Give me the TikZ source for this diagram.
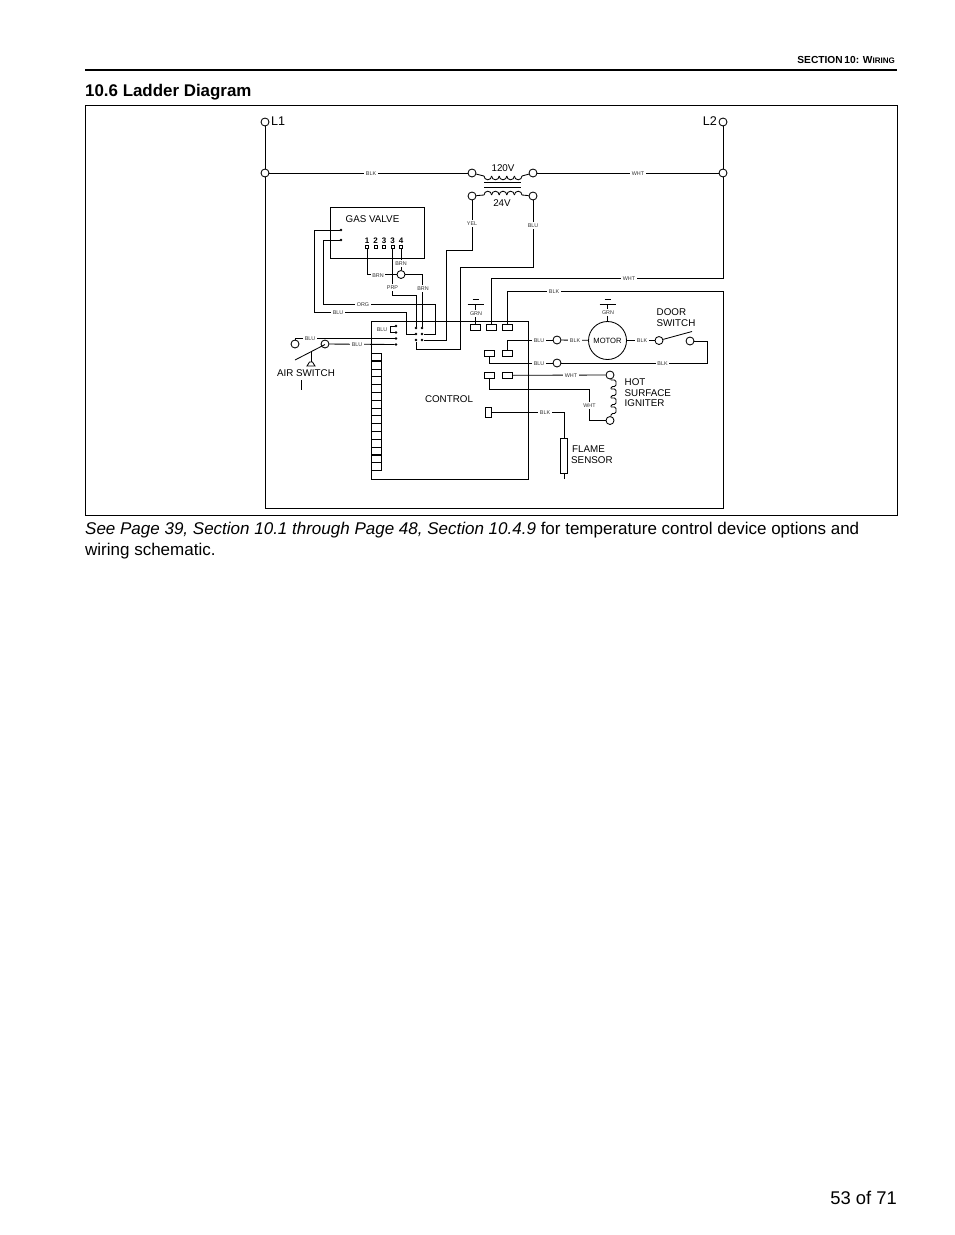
\documentclass[tikz,border=0pt]{standalone}
\usepackage{fontspec}
\setmainfont{Liberation Sans}
\usepackage{tikz}
\usetikzlibrary{positioning,shapes,calc}
\tikzset{
    wire/.style={draw=black,line width=0.85pt},
    term/.style={
                circle,
                draw=black,
                line width=0.85pt,
                fill=white,
                inner sep=0pt,
                minimum size=8pt
            },
    tab/.style={
                rectangle,
                draw=black,
                line width=0.85pt,
                fill=white,
                inner sep=0pt,
                minimum width=10pt,
                minimum height=6pt
            },
    pin/.style={
                circle,
                fill=black,
                inner sep=0pt,
                minimum size=2.6pt
            },
    vpin/.style={
                rectangle,
                draw=black,
                line width=0.6pt,
                inner sep=0pt,
                minimum size=2.6pt
            },
    wirelabel/.style={
                fill=white,
                inner sep=1.6pt,
                yshift=-0.4pt,
                text=black!80,
                font=\fontsize{5.4}{6}\selectfont
            },
    partlabel/.style={
                inner sep=0pt,
                yshift=-0.8pt,
                align=left,
                font=\fontsize{9.8}{10.8}\selectfont
            },
    striprow/.style={
                rectangle,
                draw=black,
                line width=0.8pt,
                inner sep=0pt,
                minimum width=10.5pt,
                minimum height=7.8pt
            },
}
\begin{document}
\begin{tikzpicture}[x=1pt,y=-1pt]
  \useasboundingbox (0,0) rectangle (954,1235);
  % Page furniture
  \node[anchor=east,inner sep=0pt,font=\bfseries\fontsize{10.2}{11}\selectfont] (sectionHead) at (895,60) {SECTION\,10: W{\fontsize{8}{9}\selectfont IRING}};
  \coordinate (ruleL) at (85,70);
  \coordinate (ruleR) at (897,70);
  \draw[line width=1.7pt] (ruleL) -- (ruleR);
  \node[anchor=west,inner sep=0pt,font=\bfseries\fontsize{16.9}{18}\selectfont] (title) at (85,92.3) {10.6 Ladder Diagram};
  \node[draw=black,line width=0.85pt,rectangle,minimum width=812pt,minimum height=410pt,inner sep=0pt] (frame) at (491,310) {};
  \node[anchor=north west,inner sep=0pt,align=left,font=\fontsize{17}{20.5}\selectfont] (note) at (85,522) {\itshape See Page 39, Section 10.1 through Page 48, Section 10.4.9 \upshape for temperature control device options and\\wiring schematic.};
  \node[anchor=east,inner sep=0pt,font=\fontsize{18.4}{20}\selectfont] (pageNo) at (897,1197.5) {53 of 71};

  % Terminals and parts
  \node[term] (L1) at (265,122) {};
  \node[term] (L2) at (723,122) {};
  \node[term] (railL) at (265,173) {};
  \node[term] (railR) at (723,173) {};
  \node[term] (priA) at (472,173) {};
  \node[term] (priB) at (533,173) {};
  \node[term] (secA) at (472,196) {};
  \node[term] (secB) at (533,196) {};
  \node[draw=black,line width=0.85pt,rectangle,inner sep=0pt,minimum width=94pt,minimum height=51pt] (gasValve) at (377,232.5) {};
  \node[draw=black,line width=0.85pt,rectangle,inner sep=0pt,minimum width=157pt,minimum height=158pt] (control) at (449.5,400) {};
  \node[pin] (gvA) at (341,230) {};
  \node[pin] (gvB) at (341,240) {};
  \foreach \name/\gx/\digit in {vOne/367/1,vTwo/375.5/2,vThree/384/3,vFour/392.5/3,vFive/401/4}{
    \node[vpin] (\name) at (\gx,246.5) {};
    \node[inner sep=0pt,font=\bfseries\fontsize{8}{8}\selectfont] (\name txt) at (\gx,241) {\digit};
  }
  \node[term] (brnJoin) at (401,274.5) {};
  \foreach \name/\gx/\gy in {cA/416/328,cB/422/328,cC/416/334,cD/422/334,cE/416/340,cF/422/340,bluA/396/326,bluB/396/332.5,bluC/396/338.5,bluD/396/344.5}{
    \node[pin] (\name) at (\gx,\gy) {};
  }
  \node[term] (airA) at (295,344) {};
  \node[term] (airB) at (325,344) {};
  \foreach \i in {0,...,14}{
    \node[striprow] (strip\i) at (376.5,357.2+7.8*\i) {};
  }
  \foreach \i in {1,5,13,15}{
    \draw[line width=1.6pt] (371.5,353.3+7.8*\i) -- (382,353.3+7.8*\i);
  }
  \node[tab] (tabA) at (475.5,327.5) {};
  \node[tab] (tabB) at (491.5,327.5) {};
  \node[tab] (tabC) at (507,327.5) {};
  \node[tab] (tabD) at (489,353) {};
  \node[tab] (tabE) at (507,353) {};
  \node[tab] (tabF) at (489,375.3) {};
  \node[tab] (tabG) at (507,375.3) {};
  \node[tab,minimum width=5.5pt,minimum height=10pt] (tabH) at (488.2,412) {};
  \node[term] (bluMot) at (557,340) {};
  \node[term] (bluDoor) at (557,363) {};
  \node[circle,draw=black,line width=0.85pt,inner sep=0pt,minimum size=38pt,font=\fontsize{7.6}{8}\selectfont] (motor) at (607.5,340.5) {MOTOR};
  \node[term] (doorA) at (659,340.5) {};
  \node[term] (doorB) at (690,341) {};
  \node[term] (hsiA) at (610,375) {};
  \node[term] (hsiB) at (610,420.5) {};
  \node[draw=black,line width=0.85pt,rectangle,inner sep=0pt,minimum width=6.6pt,minimum height=35.5pt] (flame) at (564,456) {};

  % Corners of the wires
  \coordinate (railSW) at (265,508);
  \coordinate (railSE) at (723,508);
  \coordinate (blkEnd) at (723,291);
  \coordinate (whtEnd) at (723,278);
  \coordinate (yelBend) at (446.5,250);
  \coordinate (yelDown) at (446.5,340);
  \coordinate (bluBend) at (460.5,267);
  \coordinate (bluDown) at (460.5,349);
  \coordinate (orgTop) at (323,304);
  \coordinate (orgEnd) at (435.5,304);
  \coordinate (gvBlu) at (314,312);
  \coordinate (gvBluEnd) at (406.7,312);
  \coordinate (prpBend) at (392.5,295);
  \coordinate (prpEnd) at (416,295);
  \coordinate (brnBend) at (422,274.5);
  \coordinate (airTop) at (295,338.5);
  \coordinate (bladeAirTail) at (295,360);
  \coordinate (bladeAirTip) at (325,344.5);
  \coordinate (stemTop) at (311,352);
  \coordinate (stemEnd) at (311,362);
  \coordinate (bracket) at (390,326);
  \coordinate (bladeDoorTip) at (692,331.5);
  \coordinate (doorRight) at (707,341);
  \coordinate (doorLow) at (707,363);
  \coordinate (tabDLow) at (489,363);
  \coordinate (tabELift) at (507,340);
  \coordinate (tabFLow) at (489,389);
  \coordinate (hsiBend) at (589,389);
  \coordinate (hsiLow) at (589,420.5);
  \coordinate (flameTop) at (564,412);
  \coordinate (flameEnd) at (564,479);
  \coordinate (gndA) at (475.5,304);
  \coordinate (gndB) at (607.5,304);
  \coordinate (igniterTop) at (611,380);
  \coordinate (igniterLow) at (611,416);

  % Rails
  \draw[wire] (L1) -- (railL) -- (railSW) -- (railSE) -- (blkEnd) -| (tabC);
  \draw[wire] (L2) -- (railR) -- (whtEnd) -| (tabB);
  \draw[wire] (railL) -- (priA);
  \draw[wire] (priB) -- (railR);

  % Transformer
  \draw[wire] (priA) -- (484,176);
  \foreach \i in {0,...,4}{
    \draw[wire] (484+7.6*\i,176) arc (180:360:3.8pt);
  }
  \draw[wire] (522,176) -- (priB);
  \draw[wire] (secA) -- (484,195);
  \foreach \i in {0,...,4}{
    \draw[wire] (484+7.6*\i,195) arc (180:0:3.8pt);
  }
  \draw[wire] (522,195) -- (secB);
  \draw[wire] (484,182.5) -- (521,182.5);
  \draw[wire] (484,187) -- (521,187);

  % Gas valve wiring
  \draw[wire] (secA) |- (yelBend) -- (yelDown) -- (cF);
  \draw[wire] (secB) |- (bluBend) -- (bluDown) -| (cE);
  \draw[wire] (gvB) -| (orgTop) -- (orgEnd) |- (cD);
  \draw[wire] (gvA) -| (gvBlu) -- (gvBluEnd) |- (cC);
  \draw[wire] (vOne) |- (brnJoin);
  \draw[wire] (vFive) -- (brnJoin);
  \draw[wire] (brnJoin) -- (brnBend) -- (cB);
  \draw[wire] (vFour) -- (prpBend) -- (prpEnd) -- (cA);

  % Air switch
  \draw[wire] (airA) -- (airTop) -- (bluC);
  \draw[wire] (airB) -- (bluD);
  \draw[wire] (bladeAirTail) -- (bladeAirTip);
  \draw[wire] (stemTop) -- (stemEnd);
  \draw[wire] (307,366) -- (309.5,362) -- (312.5,362) -- (315,366) -- cycle;
  \draw[wire] (301.5,380) -- (301.5,390);
  \draw[wire] (bluA) -- (bracket) -- (390,332.5) -- (bluB);

  % Right hand side
  \draw[wire] (tabE) -- (tabELift) -- (bluMot);
  \draw[wire] (bluMot) -- (motor);
  \draw[wire] (motor) -- (doorA);
  \draw[wire] (doorA) -- (bladeDoorTip);
  \draw[wire] (doorB) -- (doorRight) -- (doorLow) -- (bluDoor);
  \draw[wire] (bluDoor) -- (tabDLow) -- (tabD);
  \draw[wire] (tabG) -- (hsiA);
  \draw[wire] (tabF) -- (tabFLow) -- (hsiBend) -- (hsiLow) -- (hsiB);
  \draw[wire] (hsiA) -- (igniterTop);
  \foreach \i in {0,...,3}{
    \draw[wire,rounded corners=1.5pt] (611,380+9*\i) -- (616,380+9*\i) -- (616,386.5+9*\i) -- (611,386.5+9*\i) -- (611,389+9*\i);
  }
  \draw[wire] (igniterLow) -- (hsiB);
  \draw[wire] (tabH) -- (flameTop) -- (flame);
  \draw[wire] (flame) -- (flameEnd);

  % Grounds
  \foreach \gnd/\target in {gndA/tabA,gndB/motor}{
    \draw[wire] (\gnd) -- (\target);
    \draw[wire] ($(\gnd)+(-8,0)$) -- ($(\gnd)+(8,0)$);
    \draw[wire] ($(\gnd)+(-3,-4.5)$) -- ($(\gnd)+(3,-4.5)$);
  }

  % Wire labels
  \node[wirelabel] (lblA) at (371,173) {BLK};
  \node[wirelabel] (lblB) at (638,173) {WHT};
  \node[wirelabel] (lblC) at (472,223) {YEL};
  \node[wirelabel] (lblD) at (533,225) {BLU};
  \node[wirelabel] (lblE) at (629,278) {WHT};
  \node[wirelabel] (lblF) at (554,291) {BLK};
  \node[wirelabel] (lblG) at (401,263) {BRN};
  \node[wirelabel] (lblH) at (378,275) {BRN};
  \node[wirelabel] (lblI) at (392.5,287) {PRP};
  \node[wirelabel] (lblJ) at (423,288) {BRN};
  \node[wirelabel] (lblK) at (363,304) {ORG};
  \node[wirelabel] (lblL) at (338,312) {BLU};
  \node[wirelabel] (lblM) at (310,338.5) {BLU};
  \node[wirelabel] (lblN) at (357,344.5) {BLU};
  \node[wirelabel] (lblO) at (382,329) {BLU};
  \node[wirelabel] (lblP) at (476,313) {GRN};
  \node[wirelabel] (lblQ) at (608,312) {GRN};
  \node[wirelabel] (lblR) at (539,340) {BLU};
  \node[wirelabel] (lblS) at (575,340) {BLK};
  \node[wirelabel] (lblT) at (642,340) {BLK};
  \node[wirelabel] (lblU) at (539,363) {BLU};
  \node[wirelabel] (lblV) at (662.5,363) {BLK};
  \node[wirelabel] (lblW) at (571,375) {WHT};
  \node[wirelabel] (lblX) at (589.5,405) {WHT};
  \node[wirelabel] (lblY) at (545,412) {BLK};

  % Part labels
  \node[partlabel,anchor=west,font=\fontsize{12.6}{14}\selectfont] (txtLA) at (271,120.5) {L1};
  \node[partlabel,anchor=east,font=\fontsize{12.6}{14}\selectfont] (txtLB) at (717,120.5) {L2};
  \node[partlabel] (txtPri) at (503,167) {120V};
  \node[partlabel] (txtSec) at (502,202.5) {24V};
  \node[partlabel] (txtGas) at (372.5,218.5) {GAS VALVE};
  \node[partlabel] (txtAir) at (306,372.5) {AIR SWITCH};
  \node[partlabel] (txtCtl) at (449,398.5) {CONTROL};
  \node[partlabel,anchor=west] (txtDoor) at (656.5,317) {DOOR\\SWITCH};
  \node[partlabel,anchor=west] (txtHsi) at (624.5,392) {HOT\\SURFACE\\IGNITER};
  \node[partlabel,anchor=west] (txtFlame) at (571,454) {\hspace{1pt}FLAME\\SENSOR};
\end{tikzpicture}
\end{document}
